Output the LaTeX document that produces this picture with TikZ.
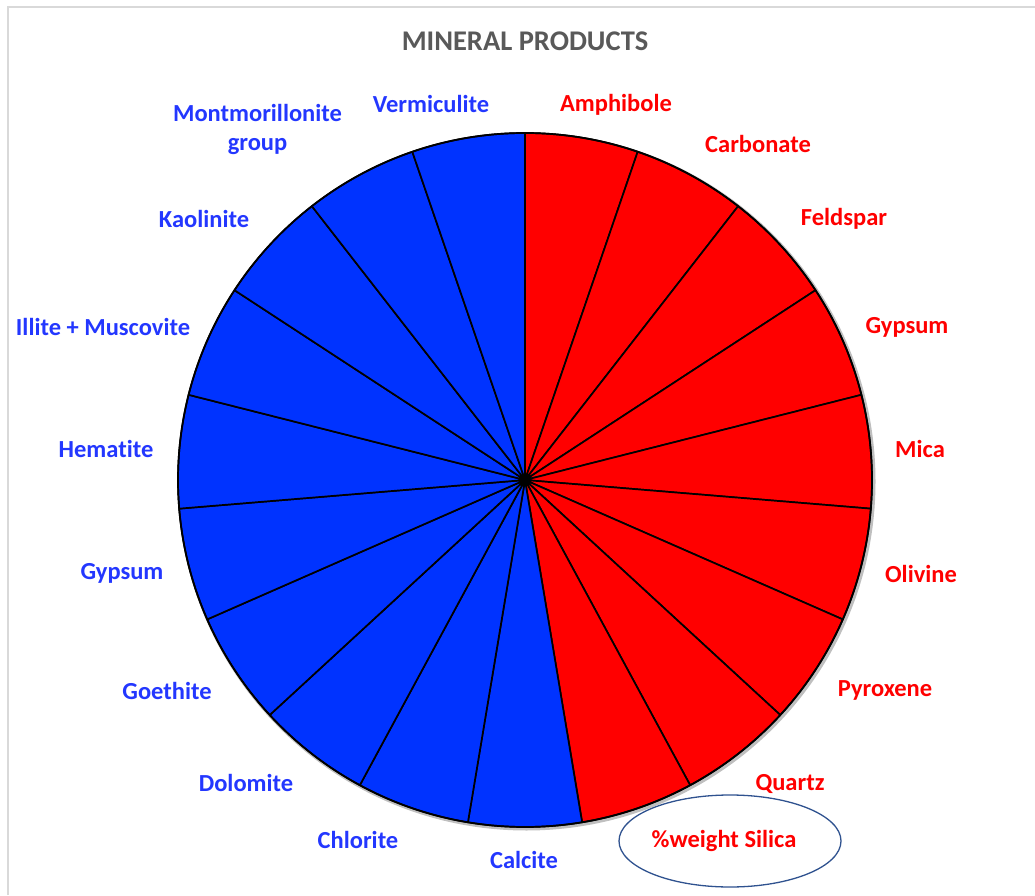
\documentclass[tikz,border=0pt]{standalone}
\usepackage{fontspec}
\setmainfont[Ligatures=NoCommon]{Carlito}
\usetikzlibrary{shapes.geometric,calc}
\definecolor{pieRed}{RGB}{255,0,0}
\definecolor{pieBlue}{RGB}{0,51,255}
\definecolor{txtBlue}{RGB}{35,55,255}
\definecolor{titleGray}{RGB}{89,89,89}
\definecolor{ringBlue}{RGB}{47,82,143}
\definecolor{frameGray}{RGB}{217,217,217}
\tikzset{wedge/.style={draw=black, line width=1.7pt, line join=round},
  lbl/.style={font=\bfseries\fontsize{24.5}{29}\selectfont, align=center, inner sep=0pt, yshift=-1.5pt},
  lblR/.style={lbl, text=pieRed},
  lblB/.style={lbl, text=txtBlue}}

\begin{document}
\begin{tikzpicture}[x=1pt, y=1pt]
  \useasboundingbox (0,0) rectangle (1035,895);
  \draw[frameGray, line width=2pt] (8,0) -- (8,888) -- (1035,888);
  \node[font=\bfseries\fontsize{28.5}{32}\selectfont, text=titleGray] (title) at (525,854) {MINERAL PRODUCTS};
  % pie: 19 equal wedges, clockwise from the top; first 9 red, rest blue
  \coordinate (c) at (525,415);
  \fill[black, opacity=0.25] ($(c)+(1.5,-1.5)$) circle[radius=349];
  \foreach \i in {0,...,18}{
    \pgfmathsetmacro\a{90-\i*360/19}
    \pgfmathsetmacro\b{90-(\i+1)*360/19}
    \ifnum\i<9 \def\col{pieRed}\else\def\col{pieBlue}\fi
    \filldraw[wedge, fill=\col] (c) -- ++(\a:347) arc[start angle=\a, end angle=\b, radius=347] -- cycle;}
  \draw[line width=1.7pt] (c) circle[radius=347];
  % labels, red side
  \node[lblR] (amph) at (616,792) {Amphibole};
  \node[lblR] (carb) at (758,753) {Carbonate};
  \node[lblR] (feld) at (844,678) {Feldspar};
  \node[lblR] (gypR) at (907,569) {Gypsum};
  \node[lblR] (mica) at (920,448) {Mica};
  \node[lblR] (oliv) at (921,323) {Olivine};
  \node[lblR] (pyro) at (885,206) {Pyroxene};
  \node[lblR] (quar) at (790,113) {Quartz};
  \node[lblR] (sili) at (724,56) {\%weight Silica};
  \node[draw=ringBlue, line width=1.3pt, ellipse, minimum width=222pt, minimum height=92pt] (ring) at (730,54) {};
  % labels, blue side
  \node[lblB] (calc) at (524,37) {Calcite};
  \node[lblB] (chlo) at (358,57) {Chlorite};
  \node[lblB] (dolo) at (246,114) {Dolomite};
  \node[lblB] (goet) at (167,206) {Goethite};
  \node[lblB] (gypL) at (122,323) {Gypsum};
  \node[lblB] (hema) at (106,448) {Hematite};
  \node[lblB] (illi) at (103,570) {Illite + Muscovite};
  \node[lblB] (kaol) at (204,678) {Kaolinite};
  \node[lblB] (mont) at (257.5,767.5) {Montmorillonite\\group};
  \node[lblB] (verm) at (431,792) {Vermiculite};
\end{tikzpicture}
\end{document}
